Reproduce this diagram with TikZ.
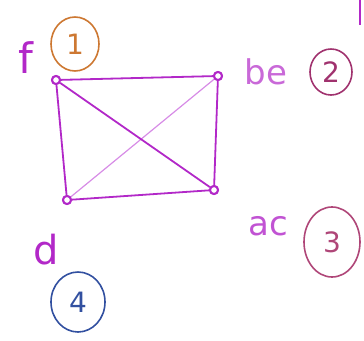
\documentclass[tikz,border=0pt]{standalone}
\usepackage{fontspec}
\setmainfont{DejaVu Sans}
\usetikzlibrary{shapes.geometric}
\definecolor{mag}{RGB}{178,40,200}
\definecolor{lmag}{RGB}{215,140,230}
\definecolor{orng}{RGB}{205,120,50}
\definecolor{plum}{RGB}{160,50,110}
\definecolor{rosy}{RGB}{175,70,120}
\definecolor{navy}{RGB}{50,80,160}
\begin{document}
\begin{tikzpicture}[x=1pt,y=-1pt,
  vert/.style={circle,draw=mag,line width=2pt,fill=white,inner sep=0pt,minimum size=8pt},
  edge/.style={draw=mag,line width=1.8pt},
  thinedge/.style={draw=lmag,line width=1.2pt},
  lbl/.style={text=mag,font=\fontsize{34}{34}\selectfont},
  num/.style={ellipse,line width=1.6pt,inner sep=0pt,font=\fontsize{28}{28}\selectfont}]
\useasboundingbox (0,0) rectangle (364,340);
\node[vert] (f) at (56,80) {};
\node[vert] (be) at (218,76) {};
\node[vert] (d) at (67,200) {};
\node[vert] (ac) at (214,190) {};
\draw[thinedge] (be) -- (d);
\draw[edge] (f) -- (be);
\draw[edge] (f) -- (d);
\draw[edge] (f) -- (ac);
\draw[edge] (be) -- (ac);
\draw[edge] (d) -- (ac);
\node[vert] at (f) {};
\node[vert] at (be) {};
\node[vert] at (d) {};
\node[vert] at (ac) {};
\node[lbl,font=\fontsize{42}{42}\selectfont] (tf) at (26,58) {f};
\node[num,draw=orng,text=orng,minimum width=48pt,minimum height=54pt] (n1) at (75,44) {1};
\node[lbl,text=mag!70] (tbe) at (266,72) {be};
\node[num,draw=plum,text=plum,minimum width=42pt,minimum height=46pt] (n2) at (331,72) {2};
\node[lbl,text=mag!80] (tac) at (268,226) {ac};
\node[num,draw=rosy,text=rosy,minimum width=56pt,minimum height=70pt] (n3) at (332,242) {3};
\node[lbl,font=\fontsize{40}{40}\selectfont] (td) at (46,250) {d};
\node[num,draw=navy,text=navy,minimum width=54pt,minimum height=60pt] (n4) at (78,302) {4};
\coordinate (s1) at (360,0);
\coordinate (s2) at (360,25);
\draw[mag,line width=1.5pt] (s1) -- (s2);
\end{tikzpicture}
\end{document}
